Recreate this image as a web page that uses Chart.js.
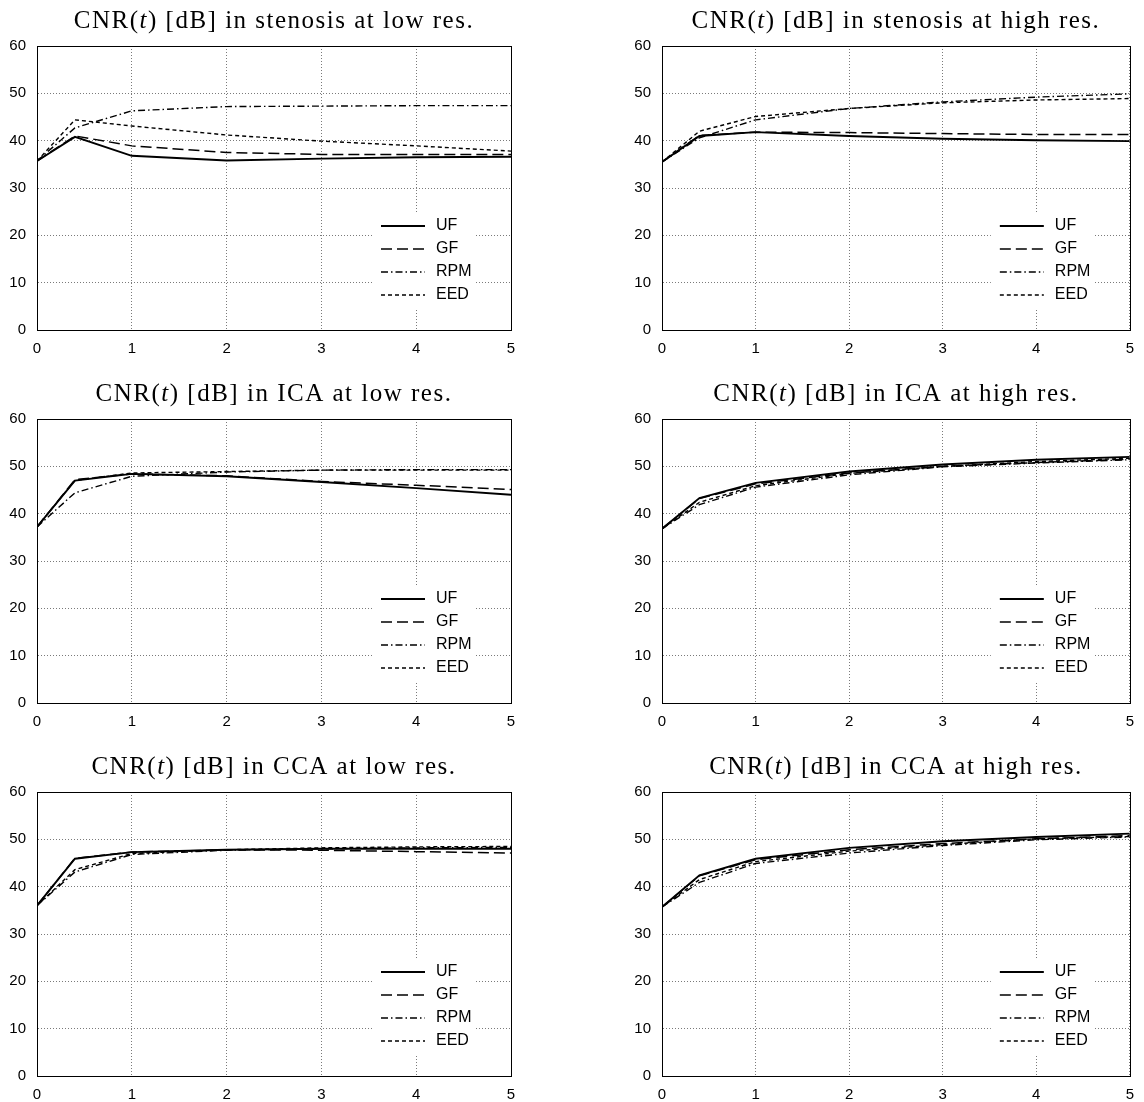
<!DOCTYPE html>
<html>
<head>
<meta charset="utf-8">
<script src="https://cdn.jsdelivr.net/npm/chart.js@4.4.0/dist/chart.umd.min.js"></script>
<style>
  html, body { margin: 0; padding: 0; background: #fff; overflow: hidden; }
  #wrap { position: relative; width: 1144px; height: 1102px; }
  canvas { position: absolute; }
</style>
</head>
<body>
<div id="wrap">
  <canvas id="c0" width="572" height="373" style="left:0;top:0"></canvas>
  <canvas id="c1" width="572" height="373" style="left:572px;top:0"></canvas>
  <canvas id="c2" width="572" height="373" style="left:0;top:373px"></canvas>
  <canvas id="c3" width="572" height="373" style="left:572px;top:373px"></canvas>
  <canvas id="c4" width="572" height="373" style="left:0;top:746px"></canvas>
  <canvas id="c5" width="572" height="373" style="left:572px;top:746px"></canvas>
</div>
<script>
// time axis (samples) and tick labels
const times = [0, 0.4, 1, 2, 3, 4, 5];
const xTicks = [0, 1, 2, 3, 4, 5];
const yTicks = [0, 10, 20, 30, 40, 50, 60];
const methods = ['UF', 'GF', 'RPM', 'EED'];

// stenosis, low res
const stenosisLowUF  = [35.7, 40.8, 36.8, 35.8, 36.2, 36.5, 36.6];
const stenosisLowGF  = [35.7, 41.0, 38.9, 37.5, 37.1, 37.1, 37.1];
const stenosisLowRPM = [35.7, 42.7, 46.3, 47.2, 47.3, 47.4, 47.4];
const stenosisLowEED = [35.7, 44.4, 43.1, 41.2, 39.9, 38.9, 37.8];

// stenosis, high res
const stenosisHighUF  = [35.5, 41.0, 41.8, 41.0, 40.4, 40.1, 39.9];
const stenosisHighGF  = [35.5, 41.1, 41.8, 41.7, 41.5, 41.3, 41.3];
const stenosisHighRPM = [35.5, 40.6, 44.4, 46.8, 48.2, 49.2, 49.9];
const stenosisHighEED = [35.5, 42.0, 45.1, 46.8, 48.0, 48.6, 48.9];

// ICA, low res
const icaLowUF  = [37.2, 47.0, 48.4, 47.9, 46.7, 45.4, 44.0];
const icaLowGF  = [37.2, 47.2, 48.4, 48.0, 46.8, 46.0, 45.1];
const icaLowRPM = [37.2, 44.4, 47.9, 48.8, 49.2, 49.3, 49.3];
const icaLowEED = [37.2, 47.0, 48.6, 48.9, 49.2, 49.2, 49.2];

// ICA, high res
const icaHighUF  = [36.8, 43.3, 46.5, 48.9, 50.4, 51.4, 52.0];
const icaHighGF  = [36.8, 43.2, 46.3, 48.6, 50.0, 50.8, 51.5];
const icaHighRPM = [36.8, 41.9, 45.6, 48.2, 49.9, 50.7, 51.4];
const icaHighEED = [36.8, 42.4, 45.9, 48.5, 50.0, 51.0, 51.7];

// CCA, low res
const ccaLowUF  = [36.0, 45.9, 47.3, 47.8, 48.0, 48.0, 48.0];
const ccaLowGF  = [36.0, 46.0, 47.3, 47.8, 47.7, 47.4, 47.1];
const ccaLowRPM = [36.0, 43.1, 46.8, 47.7, 48.0, 48.2, 48.3];
const ccaLowEED = [36.0, 43.6, 47.0, 47.8, 48.2, 48.4, 48.5];

// CCA, high res
const ccaHighUF  = [35.7, 42.4, 45.9, 48.2, 49.6, 50.5, 51.2];
const ccaHighGF  = [35.7, 42.3, 45.7, 47.8, 49.1, 50.1, 50.8];
const ccaHighRPM = [35.7, 40.9, 44.9, 47.1, 48.7, 49.9, 50.5];
const ccaHighEED = [35.7, 41.5, 45.3, 47.5, 48.9, 50.1, 50.6];

const panels = [
  { id: 'c0', where: 'stenosis', res: 'low',  col: 0, series: [stenosisLowUF, stenosisLowGF, stenosisLowRPM, stenosisLowEED] },
  { id: 'c1', where: 'stenosis', res: 'high', col: 1, series: [stenosisHighUF, stenosisHighGF, stenosisHighRPM, stenosisHighEED] },
  { id: 'c2', where: 'ICA', res: 'low',  col: 0, series: [icaLowUF, icaLowGF, icaLowRPM, icaLowEED] },
  { id: 'c3', where: 'ICA', res: 'high', col: 1, series: [icaHighUF, icaHighGF, icaHighRPM, icaHighEED] },
  { id: 'c4', where: 'CCA', res: 'low',  col: 0, series: [ccaLowUF, ccaLowGF, ccaLowRPM, ccaLowEED] },
  { id: 'c5', where: 'CCA', res: 'high', col: 1, series: [ccaHighUF, ccaHighGF, ccaHighRPM, ccaHighEED] },
];

const dashes = [[], [11, 5], [7, 3, 1.5, 3], [4, 3]];
const widths = [1.9, 1.5, 1.4, 1.4];
const tickFont = { family: '"Liberation Sans", Arial, sans-serif', size: 15 };
const titleFont = '25px "Liberation Serif", "Times New Roman", serif';

// title with italic t, centred over the plot area
const mathTitle = {
  id: 'mathTitle',
  afterDraw(chart, args, opts) {
    const ctx = chart.ctx, a = chart.chartArea;
    const parts = [['CNR(', ''], ['t', 'italic '], [opts.rest, '']];
    ctx.save();
    ctx.fillStyle = '#000';
    ctx.textBaseline = 'alphabetic';
    ctx.letterSpacing = '1.5px';
    let total = 0;
    parts.forEach(p => {
      ctx.font = p[1] + titleFont;
      p.w = ctx.measureText(p[0]).width;
      total += p.w;
    });
    let x = (a.left + a.right) / 2 - total / 2;
    parts.forEach(p => {
      ctx.font = p[1] + titleFont;
      ctx.fillText(p[0], x, 28);
      x += p.w;
    });
    ctx.restore();
  }
};

// legend box in the lower right corner, white background hides the grid
const boxLegend = {
  id: 'boxLegend',
  beforeDatasetsDraw(chart) {
    const ctx = chart.ctx, a = chart.chartArea;
    ctx.save();
    ctx.fillStyle = '#fff';
    ctx.fillRect(a.right - 139, a.bottom - 117, 104, 97);
    ctx.restore();
  },
  afterDatasetsDraw(chart) {
    const ctx = chart.ctx, a = chart.chartArea;
    ctx.save();
    chart.data.datasets.forEach((ds, i) => {
      const y = a.bottom - 104 + i * 23;
      ctx.strokeStyle = '#000';
      ctx.lineWidth = ds.borderWidth;
      ctx.setLineDash(ds.borderDash);
      ctx.beginPath();
      ctx.moveTo(a.right - 130, y);
      ctx.lineTo(a.right - 86, y);
      ctx.stroke();
      ctx.setLineDash([]);
      ctx.fillStyle = '#000';
      ctx.font = '16px "Liberation Sans", Arial, sans-serif';
      ctx.textBaseline = 'middle';
      ctx.fillText(ds.label, a.right - 75, y);
    });
    // full frame round the plot
    ctx.lineWidth = 1;
    ctx.strokeStyle = '#000';
    ctx.strokeRect(Math.round(a.left) + 0.5, Math.round(a.top) + 0.5, Math.round(a.right - a.left), Math.round(a.bottom - a.top));
    ctx.restore();
  }
};

panels.forEach(p => {
  new Chart(document.getElementById(p.id), {
    type: 'line',
    data: {
      datasets: p.series.map((vals, i) => ({
        label: methods[i],
        data: times.map((t, k) => ({ x: t, y: vals[k] })),
        borderColor: '#000',
        borderWidth: widths[i],
        borderDash: dashes[i],
        pointRadius: 0,
        tension: 0,
        fill: false,
      })),
    },
    options: {
      responsive: false,
      animation: false,
      layout: { padding: { left: p.col === 0 ? 0 : 53, right: p.col === 0 ? 61 : 9, top: 46, bottom: 13 } },
      plugins: {
        legend: { display: false },
        tooltip: { enabled: false },
        mathTitle: { rest: ') [dB] in ' + p.where + ' at ' + p.res + ' res.' },
      },
      scales: {
        x: {
          type: 'linear', min: 0, max: 5,
          afterFit(s) { s.height = 30; },
          afterBuildTicks(s) { s.ticks = xTicks.map(v => ({ value: v })); },
          ticks: { font: tickFont, color: '#000', padding: 10, maxRotation: 0 },
          grid: { color: '#7a7a7a', drawTicks: false, lineWidth: 1 },
          border: { display: true, color: '#000', width: 1, dash: [1, 2] },
        },
        y: {
          type: 'linear', min: 0, max: 60,
          afterFit(s) { s.width = 37; },
          afterBuildTicks(s) { s.ticks = yTicks.map(v => ({ value: v })); },
          ticks: { font: tickFont, color: '#000', padding: 11 },
          grid: { color: '#7a7a7a', drawTicks: false, lineWidth: 1 },
          border: { display: true, color: '#000', width: 1, dash: [1, 2] },
        },
      },
    },
    plugins: [mathTitle, boxLegend],
  });
});
</script>
</body>
</html>
